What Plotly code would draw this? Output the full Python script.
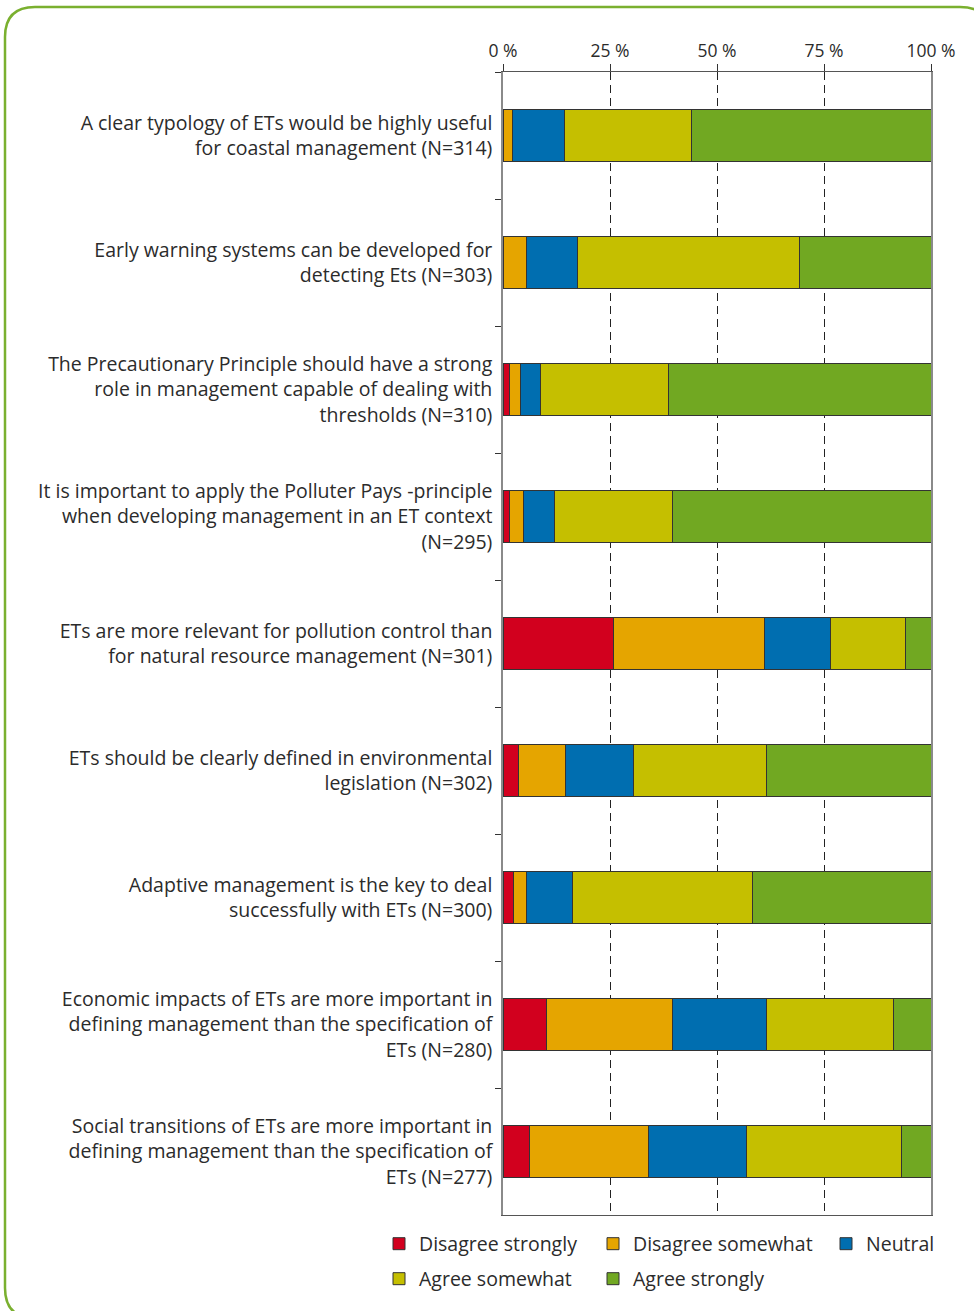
import plotly.graph_objects as go

categories = [
    "A clear typology of ETs would be highly useful<br>for coastal management (N=314)",
    "Early warning systems can be developed for<br>detecting Ets (N=303)",
    "The Precautionary Principle should have a strong<br>role in management capable of dealing with<br>thresholds (N=310)",
    "It is important to apply the Polluter Pays -principle<br>when developing management in an ET context<br>(N=295)",
    "ETs are more relevant for pollution control than<br>for natural resource management (N=301)",
    "ETs should be clearly defined in environmental<br>legislation (N=302)",
    "Adaptive management is the key to deal<br>successfully with ETs (N=300)",
    "Economic impacts of ETs are more important in<br>defining management than the specification of<br>ETs (N=280)",
    "Social transitions of ETs are more important in<br>defining management than the specification of<br>ETs (N=277)",
]

disagree_strongly = [0.0, 0.0, 1.5, 1.5, 25.8, 3.7, 2.4, 10.2, 6.1]
disagree_somewhat = [2.3, 5.6, 2.7, 3.2, 35.2, 11.0, 3.2, 29.3, 27.9]
neutral = [12.0, 11.9, 4.6, 7.3, 15.6, 15.7, 10.6, 22.1, 22.9]
agree_somewhat = [29.8, 51.7, 29.8, 27.5, 17.4, 31.1, 42.1, 29.7, 36.2]
agree_strongly = [55.9, 30.8, 61.4, 60.5, 6.0, 38.5, 41.7, 8.7, 6.9]

tick_vals = [0, 25, 50, 75, 100]
tick_text = ["0 %", "25 %", "50 %", "75 %", "100 %"]

series_names = ["Disagree strongly", "Disagree somewhat", "Neutral", "Agree somewhat", "Agree strongly"]
series_values = [disagree_strongly, disagree_somewhat, neutral, agree_somewhat, agree_strongly]
series_colors = ["#D2001E", "#E5A500", "#006EB0", "#C5BF00", "#71A822"]

FONT = "Open Sans"
TXT = "#2b2b2b"
FS = 19.5

W, H = 974, 1311
L, R, T, B = 503, 43, 72, 96
PW, PH = W - L - R, H - T - B


def px(x):
    return (x - L) / PW


def py(y):
    return (H - B - y) / PH


# legend entry anchor positions (pixels): one legend per entry
legend_pos = [(379, 1244), (593, 1244), (826, 1244), (379, 1279), (593, 1279)]

fig = go.Figure()
legends = {}
for i, (name, vals, color) in enumerate(zip(series_names, series_values, series_colors)):
    key = "legend" if i == 0 else f"legend{i + 1}"
    fig.add_trace(go.Bar(
        name=name, y=categories, x=vals, orientation="h",
        marker=dict(color=color, line=dict(color="#333333", width=1)),
        legend=key,
    ))
    lx, ly = legend_pos[i]
    legends[key] = dict(orientation="h", xanchor="left", yanchor="middle", traceorder="normal",
                        x=px(lx), y=py(ly),
                        font=dict(family=FONT, size=FS, color=TXT), itemclick=False,
                        itemdoubleclick=False, bgcolor="rgba(0,0,0,0)")

x0, x1, y0, y1, r = 5, 990, 7, 1318, 30
pts = [
    ("M", [(x0 + r, y0)]),
    ("L", [(x1 - r, y0)]),
    ("Q", [(x1, y0), (x1, y0 + r)]),
    ("L", [(x1, y1 - r)]),
    ("Q", [(x1, y1), (x1 - r, y1)]),
    ("L", [(x0 + r, y1)]),
    ("Q", [(x0, y1), (x0, y1 - r)]),
    ("L", [(x0, y0 + r)]),
    ("Q", [(x0, y0), (x0 + r, y0)]),
]
path = ""
for cmd, ps in pts:
    path += cmd + " ".join(f"{px(a):.5f},{py(b):.5f}" for a, b in ps) + " "
path += "Z"

fig.update_layout(
    width=W, height=H,
    margin=dict(l=L, r=R, t=T, b=B),
    paper_bgcolor="white", plot_bgcolor="white",
    barmode="stack", bargap=0.59,
    font=dict(family=FONT, size=FS, color=TXT),
    showlegend=True,
    shapes=[dict(type="path", xref="paper", yref="paper", path=path,
                 line=dict(color="#7AB02F", width=2.5), fillcolor="rgba(0,0,0,0)", layer="below")],
    **legends,
)

fig.update_xaxes(
    side="top", range=[0, 100], tickvals=tick_vals, ticktext=tick_text,
    showgrid=True, gridcolor="#222222", gridwidth=1, griddash="8px,5px",
    showline=True, linecolor="#555555", linewidth=1, mirror=True,
    ticks="outside", ticklen=7, tickcolor="#333333",
    tickfont=dict(family=FONT, size=17.5, color=TXT), zeroline=False, fixedrange=True,
)
fig.update_yaxes(
    autorange="reversed", tickson="boundaries", ticks="outside", ticklen=6,
    tickcolor="#333333", showgrid=False, ticklabelstandoff=5,
    showline=True, linecolor="#8a8a8a", linewidth=1.5, mirror=True,
    tickfont=dict(family=FONT, size=FS, color=TXT), fixedrange=True,
)

fig.write_html("out.html", config={"displayModeBar": False},
               post_script="document.body.style.margin='0';document.body.style.padding='0';")
